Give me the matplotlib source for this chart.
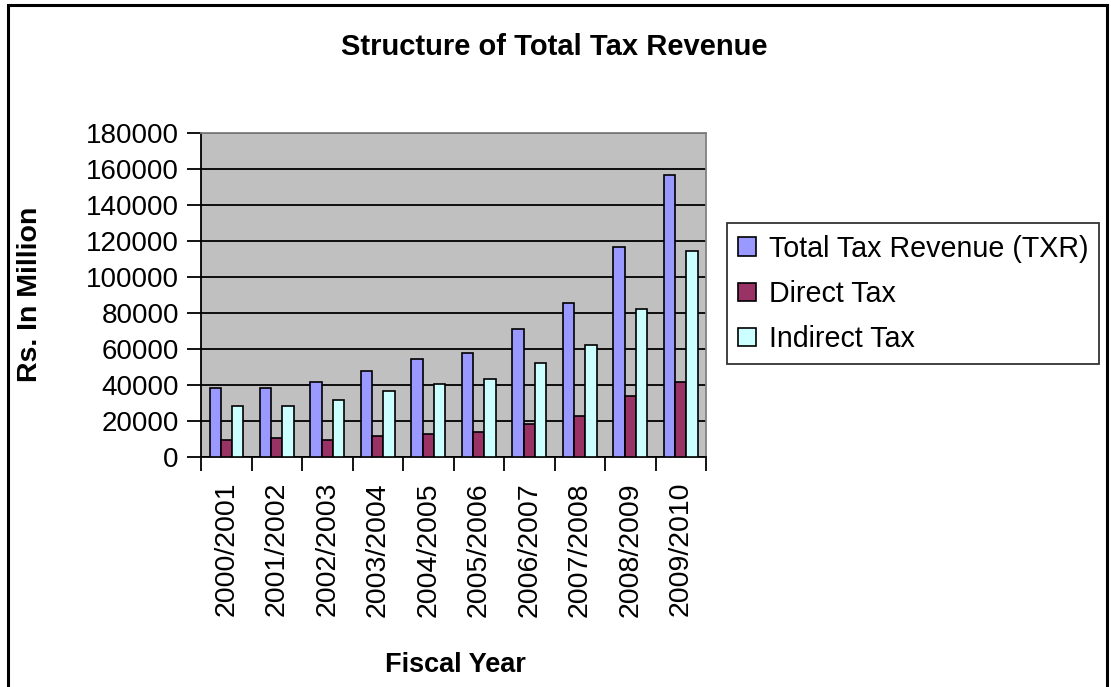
import matplotlib.pyplot as plt
import numpy as np
from matplotlib.patches import Rectangle

plt.rcParams['font.family'] = ['Liberation Sans', 'DejaVu Sans']

years = ["2000/2001", "2001/2002", "2002/2003", "2003/2004", "2004/2005",
         "2005/2006", "2006/2007", "2007/2008", "2008/2009", "2009/2010"]
total_tax = [38600, 38600, 41900, 47500, 54200, 57500, 70900, 85400, 116500, 156600]
direct_tax = [9600, 10800, 9600, 11900, 13000, 14100, 18600, 23000, 34100, 41900]
indirect_tax = [28600, 28600, 31900, 36400, 40800, 43100, 52000, 62000, 82000, 114300]

series = [
    ("Total Tax Revenue (TXR)", total_tax, "#9999FF"),
    ("Direct Tax", direct_tax, "#993366"),
    ("Indirect Tax", indirect_tax, "#CCFFFF"),
]

fig = plt.figure(figsize=(11.11, 6.87), dpi=100)
ax = fig.add_axes([0.181, 0.3348, 0.4545, 0.4716])

x = np.arange(len(years))
w = 1 / 4.5
for i, (name, vals, col) in enumerate(series):
    ax.bar(x + (i - 1) * w, vals, w, color=col, edgecolor="black",
           linewidth=1.2, label=name, zorder=3)

ax.set_facecolor("#C0C0C0")
ax.set_xlim(-0.5, len(years) - 0.5)
ax.set_ylim(0, 180000)
ax.set_yticks(np.arange(0, 180001, 20000))
ax.yaxis.grid(True, color="black", linewidth=1.3, zorder=1)
ax.set_axisbelow(True)

# category labels centred, tick marks on the boundaries
ax.set_xticks(x)
ax.set_xticklabels(years, rotation=90, fontsize=20.5)
ax.tick_params(axis="x", which="major", length=0, pad=18)
ax.set_xticks(np.arange(-0.5, len(years)), minor=True)
ax.tick_params(axis="x", which="minor", length=10, width=1.3, color="black")
ax.tick_params(axis="y", labelsize=20, length=10, width=1.3, pad=6)

for side in ("top", "right"):
    ax.spines[side].set_color("#808080")
    ax.spines[side].set_linewidth(1.3)
for side in ("left", "bottom"):
    ax.spines[side].set_linewidth(1.3)

fig.text(0.4986, 0.931, "Structure of Total Tax Revenue", ha="center",
         va="center", fontsize=21, fontweight="bold")
fig.text(0.027, 0.571, "Rs. In Million", rotation=90, ha="center",
         va="center", fontsize=20.5, fontweight="bold")
fig.text(0.41, 0.032, "Fiscal Year", ha="center", va="center",
         fontsize=19.5, fontweight="bold")

leg = ax.legend(loc="upper left", bbox_to_anchor=(1.0416, 0.722), fontsize=20.6,
                frameon=True, fancybox=False, handlelength=0.6,
                handleheight=0.6, handletextpad=0.45, borderpad=0.4,
                labelspacing=0.6, borderaxespad=0)
leg.get_frame().set_edgecolor("black")
leg.get_frame().set_linewidth(1.3)

# outer chart border, open at the bottom edge
fig.patches.append(Rectangle((0.0072, -0.05), 0.989, 1.043, transform=fig.transFigure,
                             fill=False, edgecolor="black", linewidth=2.2))

fig.savefig("out.png", dpi=100)
